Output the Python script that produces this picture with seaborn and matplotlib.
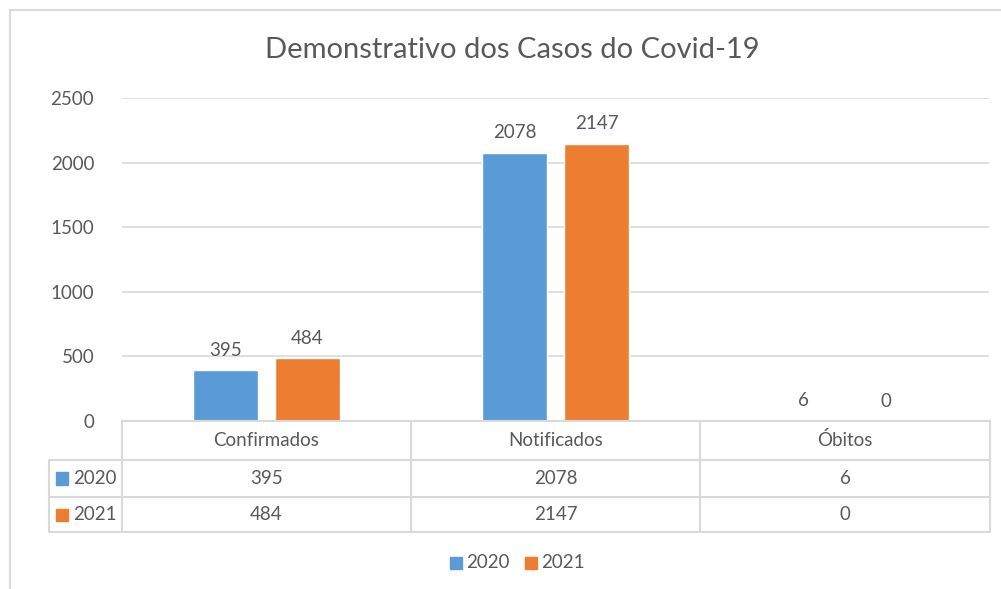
import matplotlib
matplotlib.use("Agg")
import matplotlib.pyplot as plt
import seaborn as sns
import pandas as pd
from matplotlib.lines import Line2D
from matplotlib.patches import Rectangle

categories = ["Confirmados", "Notificados", "Óbitos"]
series_names = ["2020", "2021"]
values_2020 = [395, 2078, 6]
values_2021 = [484, 2147, 0]
y_ticks = [0, 500, 1000, 1500, 2000, 2500]
title = "Demonstrativo dos Casos do Covid-19"

colors = ["#5B9BD5", "#ED7D31"]
text_color = "#595959"
grid_color = "#D9D9D9"
fs = 13.5

sns.set_theme(style="white")
plt.rcParams["font.family"] = ["Lato", "DejaVu Sans"]

W, H = 1001, 589
fig = plt.figure(figsize=(W / 100, H / 100), dpi=100)

def fx(px):
    return px / W

def fy(py):
    return 1 - py / H

# chart frame
fig.patches.append(Rectangle((fx(10), fy(600)), fx(1010), fy(10) - fy(600),
                             transform=fig.transFigure, fill=False,
                             edgecolor=grid_color, linewidth=1.5))

x0, x1 = 122, 989
y_top, y_zero = 98, 421
ax = fig.add_axes([fx(x0), fy(y_zero), fx(x1 - x0), (y_zero - y_top) / H])

df = pd.DataFrame({
    "categoria": categories * 2,
    "ano": [series_names[0]] * 3 + [series_names[1]] * 3,
    "valor": values_2020 + values_2021,
})

sns.barplot(data=df, x="categoria", y="valor", hue="ano", palette=colors,
            width=0.5675, gap=0.207, ax=ax, legend=False, saturation=1)

for cont in ax.containers:
    ax.bar_label(cont, labels=[f"{v:.0f}" for v in cont.datavalues],
                 padding=8, fontsize=fs, color=text_color)

ax.set_xlim(-0.5, 2.5)
ax.set_ylim(0, 2500)
ax.set_yticks(y_ticks)
ax.set_yticklabels([str(t) for t in y_ticks], fontsize=fs, color=text_color)
ax.tick_params(axis="y", length=0, pad=20)
ax.set_xticks([])
ax.set_xlabel("")
ax.set_ylabel("")
for s in ax.spines.values():
    s.set_visible(False)
ax.yaxis.grid(True, color=grid_color, linewidth=1.2)
ax.set_axisbelow(True)
ax.set_facecolor("none")

# data table
col_edges = [122, 411, 700, 990]
row_edges = [421, 460, 497, 532]
left_edge = 49

def hline(y, xa, xb):
    fig.add_artist(Line2D([fx(xa), fx(xb)], [fy(y), fy(y)], color=grid_color,
                          linewidth=1.5, transform=fig.transFigure))

def vline(x, ya, yb):
    fig.add_artist(Line2D([fx(x), fx(x)], [fy(ya), fy(yb)], color=grid_color,
                          linewidth=1.5, transform=fig.transFigure))

hline(row_edges[0], col_edges[0], col_edges[-1])
for y in row_edges[1:]:
    hline(y, left_edge, col_edges[-1])
for x in col_edges:
    vline(x, row_edges[0], row_edges[-1])
vline(left_edge, row_edges[1], row_edges[-1])

for i, cat in enumerate(categories):
    cx = (col_edges[i] + col_edges[i + 1]) / 2
    fig.text(fx(cx), fy((row_edges[0] + row_edges[1]) / 2), cat, ha="center",
             va="center", fontsize=fs, color=text_color)
    for r, vals in enumerate([values_2020, values_2021]):
        cy = (row_edges[r + 1] + row_edges[r + 2]) / 2
        fig.text(fx(cx), fy(cy), str(vals[i]), ha="center", va="center",
                 fontsize=fs, color=text_color)

for r, name in enumerate(series_names):
    cy = (row_edges[r + 1] + row_edges[r + 2]) / 2
    fig.patches.append(Rectangle((fx(56), fy(cy + 6)), fx(12), fy(cy - 6) - fy(cy + 6),
                                 transform=fig.transFigure, color=colors[r]))
    fig.text(fx(73), fy(cy), name, ha="left", va="center", fontsize=fs,
             color=text_color)

# legend
leg_y = 563
for r, (name, sx) in enumerate(zip(series_names, [450, 525])):
    fig.patches.append(Rectangle((fx(sx), fy(leg_y + 6)), fx(12), fy(leg_y - 6) - fy(leg_y + 6),
                                 transform=fig.transFigure, color=colors[r]))
    fig.text(fx(sx + 16), fy(leg_y), name, ha="left", va="center", fontsize=fs,
             color=text_color)

fig.text(fx(512), fy(50), title, ha="center", va="center", fontsize=21,
         color=text_color, fontweight="normal")

fig.savefig("out.png", dpi=100)
